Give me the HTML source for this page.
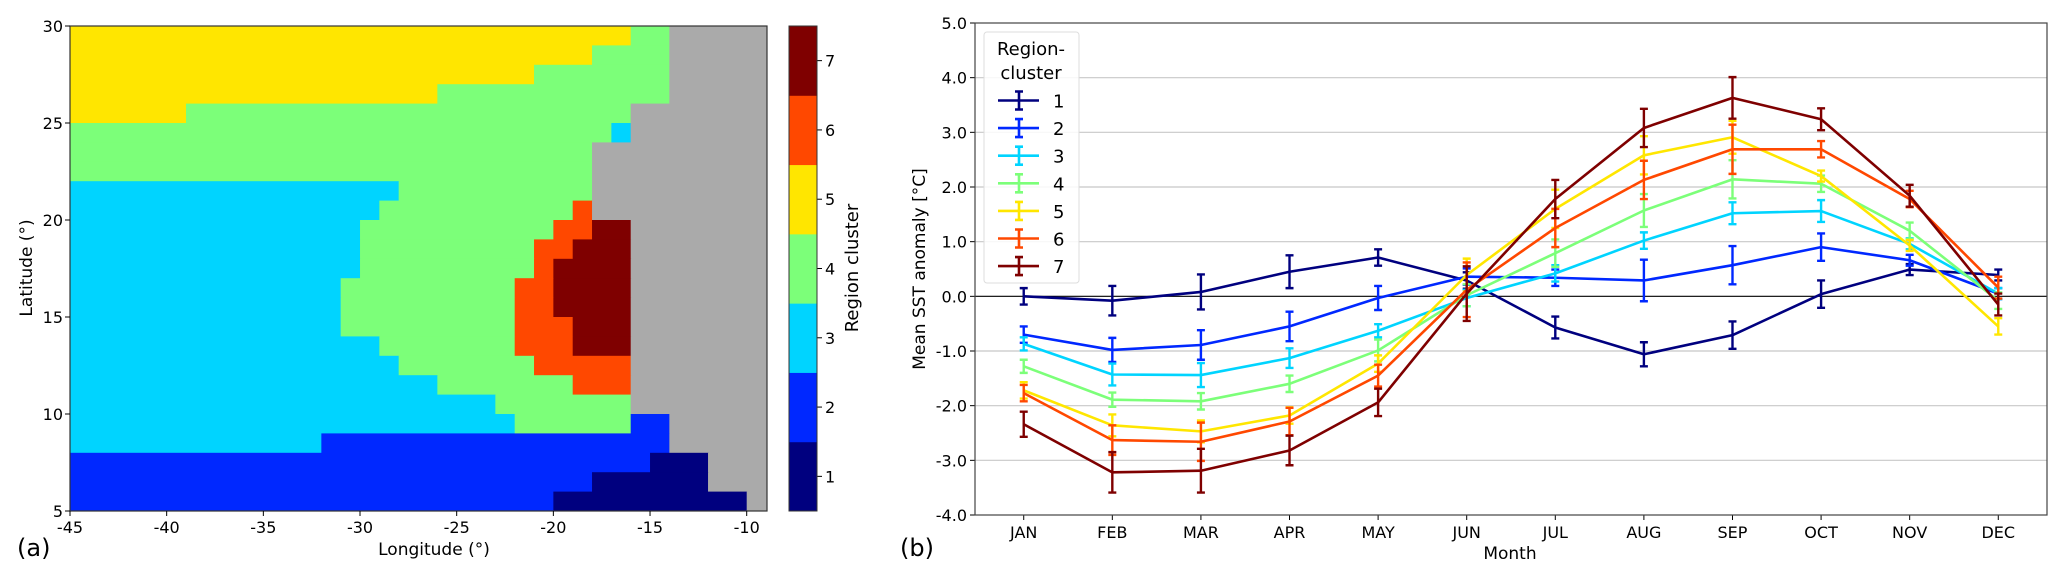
<!DOCTYPE html>
<html><head><meta charset="utf-8">
<style>
html,body{margin:0;padding:0;background:#fff;}
svg{display:block;font-family:"DejaVu Sans","Liberation Sans",sans-serif;}
</style></head>
<body>
<svg id="fig" width="2067" height="579" viewBox="0 0 2067 579">
  <g id="mapG"></g>
  <g id="cbG"></g>
  <g id="chartG"></g>
</svg>
<script>
// ---------- Map data ----------
const mapLats = [30,29,28,27,26,25,24,23,22,21,20,19,18,17,16,15,14,13,12,11,10,9,8,7,6];
const mapRows = [
 [[-45,5],[-16,4],[-14,0]],
 [[-45,5],[-18,4],[-14,0]],
 [[-45,5],[-21,4],[-14,0]],
 [[-45,5],[-26,4],[-14,0]],
 [[-45,5],[-39,4],[-16,0]],
 [[-45,4],[-17,3],[-16,0]],
 [[-45,4],[-18,0]],
 [[-45,4],[-18,0]],
 [[-45,3],[-28,4],[-18,0]],
 [[-45,3],[-29,4],[-19,6],[-18,0]],
 [[-45,3],[-30,4],[-20,6],[-18,7],[-16,0]],
 [[-45,3],[-30,4],[-21,6],[-19,7],[-16,0]],
 [[-45,3],[-30,4],[-21,6],[-20,7],[-16,0]],
 [[-45,3],[-31,4],[-22,6],[-20,7],[-16,0]],
 [[-45,3],[-31,4],[-22,6],[-20,7],[-16,0]],
 [[-45,3],[-31,4],[-22,6],[-19,7],[-16,0]],
 [[-45,3],[-29,4],[-22,6],[-19,7],[-16,0]],
 [[-45,3],[-28,4],[-21,6],[-16,0]],
 [[-45,3],[-26,4],[-19,6],[-16,0]],
 [[-45,3],[-23,4],[-16,0]],
 [[-45,3],[-22,4],[-16,2],[-14,0]],
 [[-45,3],[-32,2],[-14,0]],
 [[-45,2],[-15,1],[-12,0]],
 [[-45,2],[-18,1],[-12,0]],
 [[-45,2],[-20,1],[-10,0]]
];
const clusterColors = ['#aaaaaa','#00007f','#0028ff','#00d4ff','#7cff79','#ffe600','#ff4800','#7f0000'];
const lonTicks = [-45,-40,-35,-30,-25,-20,-15,-10];
const latTicks = [5,10,15,20,25,30];
const cbTicks = [1,2,3,4,5,6,7];

// ---------- Chart data ----------
const months = ['JAN','FEB','MAR','APR','MAY','JUN','JUL','AUG','SEP','OCT','NOV','DEC'];
const s1 = [0.0,-0.08,0.08,0.45,0.71,0.29,-0.57,-1.06,-0.71,0.04,0.49,0.39];
const s2 = [-0.7,-0.98,-0.89,-0.55,-0.03,0.36,0.34,0.29,0.57,0.9,0.66,0.05];
const s3 = [-0.87,-1.43,-1.44,-1.13,-0.63,-0.03,0.42,1.02,1.52,1.56,0.96,0.05];
const s4 = [-1.28,-1.89,-1.92,-1.6,-0.99,0.02,0.79,1.57,2.14,2.06,1.2,-0.08];
const s5 = [-1.72,-2.36,-2.47,-2.18,-1.23,0.39,1.6,2.58,2.91,2.2,0.93,-0.55];
const s6 = [-1.77,-2.63,-2.66,-2.29,-1.45,0.12,1.25,2.13,2.69,2.69,1.78,0.16];
const s7 = [-2.34,-3.22,-3.19,-2.82,-1.94,0.05,1.78,3.08,3.63,3.24,1.84,-0.15];
const e1 = [0.15,0.27,0.32,0.3,0.15,0.15,0.2,0.22,0.25,0.25,0.1,0.1];
const e2 = [0.15,0.22,0.27,0.27,0.22,0.15,0.15,0.38,0.35,0.25,0.1,0.1];
const e3 = [0.12,0.2,0.22,0.18,0.12,0.15,0.15,0.15,0.2,0.2,0.1,0.1];
const e4 = [0.12,0.13,0.15,0.15,0.2,0.2,0.25,0.3,0.35,0.15,0.15,0.15];
const e5 = [0.15,0.2,0.2,0.15,0.15,0.3,0.35,0.35,0.3,0.1,0.1,0.15];
const e6 = [0.15,0.27,0.35,0.25,0.2,0.5,0.35,0.35,0.45,0.15,0.15,0.2];
const e7 = [0.23,0.37,0.4,0.27,0.25,0.5,0.35,0.35,0.38,0.2,0.2,0.2];
const yTicks = [-4,-3,-2,-1,0,1,2,3,4,5];
const seriesNames = ['1','2','3','4','5','6','7'];

const NS='http://www.w3.org/2000/svg';
function mk(parent,tag,attrs,text){
  const el=document.createElementNS(NS,tag);
  for(const k in attrs) el.setAttribute(k,attrs[k]);
  if(text!==undefined) el.textContent=text;
  parent.appendChild(el);
  return el;
}

// ---------- Map ----------
const mapG=document.getElementById('mapG');
const M={x0:70,x1:767,y0:26,y1:511,lon0:-45,lon1:-8.95,lat0:5,lat1:30};
const lx=v=>M.x0+(v-M.lon0)/(M.lon1-M.lon0)*(M.x1-M.x0);
const ly=v=>M.y1-(v-M.lat0)/(M.lat1-M.lat0)*(M.y1-M.y0);
mapRows.forEach((runs,ri)=>{
  const top=mapLats[ri];
  runs.forEach((r,k)=>{
    const end = k+1<runs.length ? runs[k+1][0] : M.lon1;
    const x=lx(r[0]), w=lx(end)-x+0.5;
    const c=mk(mapG,'rect',{x:x,y:ly(top),width:w,height:ly(top-1)-ly(top)+0.5,fill:clusterColors[r[1]]});
    
    
  });
});
mk(mapG,'rect',{x:M.x0,y:M.y0,width:M.x1-M.x0,height:M.y1-M.y0,fill:'none',stroke:'#333','stroke-width':1.2});
lonTicks.forEach(t=>{
  const x=lx(t);
  mk(mapG,'line',{x1:x,x2:x,y1:M.y1,y2:M.y1+5,stroke:'#000'});
  const tx=mk(mapG,'text',{x:x,y:M.y1+22,'text-anchor':'middle','font-size':16},String(t));
  
  
});
latTicks.forEach(t=>{
  const y=ly(t);
  mk(mapG,'line',{x1:M.x0-5,x2:M.x0,y1:y,y2:y,stroke:'#000'});
  const tx=mk(mapG,'text',{x:M.x0-7,y:y+6,'text-anchor':'end','font-size':16},String(t));
  
  
});
mk(mapG,'text',{x:434,y:555,'text-anchor':'middle','font-size':17,},'Longitude (°)');
mk(mapG,'text',{x:0,y:0,transform:'translate(32,268) rotate(-90)','text-anchor':'middle','font-size':17,},'Latitude (°)');
mk(mapG,'text',{x:17,y:556,'font-size':24,},'(a)');

// ---------- Colorbar ----------
const cbG=document.getElementById('cbG');
const CB={x:789,w:28,y0:26,y1:511};
const cbH=(CB.y1-CB.y0)/7;
cbTicks.forEach((t,i)=>{
  const y=CB.y1-(i+1)*cbH;
  const r=mk(cbG,'rect',{x:CB.x,y:y,width:CB.w,height:cbH+0.5,fill:clusterColors[t]});
  
  
  mk(cbG,'line',{x1:CB.x+CB.w,x2:CB.x+CB.w+5,y1:y+cbH/2,y2:y+cbH/2,stroke:'#000'});
  const tx=mk(cbG,'text',{x:CB.x+CB.w+8,y:y+cbH/2+6,'font-size':16},String(t));
  
  
});
mk(cbG,'rect',{x:CB.x,y:CB.y0,width:CB.w,height:CB.y1-CB.y0,fill:'none',stroke:'#333','stroke-width':1});
mk(cbG,'text',{x:0,y:0,transform:'translate(858,268) rotate(-90)','text-anchor':'middle','font-size':18,},'Region cluster');

// ---------- Chart ----------
const chartG=document.getElementById('chartG');
const C={x0:975,x1:2047,y0:23,y1:515,vmin:-4,vmax:5,imin:-0.55,imax:11.55};
const cx=i=>C.x0+(i-C.imin)/(C.imax-C.imin)*(C.x1-C.x0);
const cy=v=>C.y1-(v-C.vmin)/(C.vmax-C.vmin)*(C.y1-C.y0);
yTicks.forEach(t=>{
  const y=cy(t);
  if(t!==0 && t!==-4 && t!==5) mk(chartG,'line',{x1:C.x0,x2:C.x1,y1:y,y2:y,stroke:'#c8c8c8','stroke-width':1.2});
  mk(chartG,'line',{x1:C.x0-5,x2:C.x0,y1:y,y2:y,stroke:'#000'});
  const tx=mk(chartG,'text',{x:C.x0-8,y:y+6,'text-anchor':'end','font-size':16},t.toFixed(1));
  
  
});
mk(chartG,'line',{x1:C.x0,x2:C.x1,y1:cy(0),y2:cy(0),stroke:'#000','stroke-width':1.2,});
months.forEach((m,i)=>{
  const x=cx(i);
  mk(chartG,'line',{x1:x,x2:x,y1:C.y1,y2:C.y1+5,stroke:'#000'});
  const tx=mk(chartG,'text',{x:x,y:C.y1+23,'text-anchor':'middle','font-size':16},m);
  
  
});
const allS=[s1,s2,s3,s4,s5,s6,s7];
const allE=[e1,e2,e3,e4,e5,e6,e7];
allS.forEach((s,k)=>{
  const col=clusterColors[k+1];
  const g=mk(chartG,'g',{});
  
  
  const pts=s.map((v,i)=>cx(i)+','+cy(v)).join(' ');
  mk(g,'polyline',{points:pts,fill:'none',stroke:col,'stroke-width':2.6,'stroke-linejoin':'round'});
  s.forEach((v,i)=>{
    const x=cx(i),ya=cy(v+allE[k][i]),yb=cy(v-allE[k][i]);
    const eb=mk(g,'path',{d:`M${x},${ya}V${yb}M${x-4},${ya}H${x+4}M${x-4},${yb}H${x+4}`,stroke:col,'stroke-width':2.4,fill:'none'});
    
    
  });
});
mk(chartG,'rect',{x:C.x0,y:C.y0,width:C.x1-C.x0,height:C.y1-C.y0,fill:'none',stroke:'#444','stroke-width':1.2});
// legend
const lg=mk(chartG,'g',{});


mk(lg,'rect',{x:984,y:32,width:95,height:251,rx:3,fill:'#fff','fill-opacity':0.85,stroke:'#ddd'});
mk(lg,'text',{x:1031,y:55,'text-anchor':'middle','font-size':18},'Region-');
mk(lg,'text',{x:1031,y:79,'text-anchor':'middle','font-size':18},'cluster');
seriesNames.forEach((n,k)=>{
  const y=100.5+k*27.6, col=clusterColors[k+1];
  const e=mk(lg,'g',{});
  
  
  mk(e,'path',{d:`M998,${y}H1039M1019,${y-9}V${y+9}M1015,${y-9}H1023M1015,${y+9}H1023`,stroke:col,'stroke-width':2.6,fill:'none'});
  mk(e,'text',{x:1053,y:y+7,'font-size':18},n);
});
mk(chartG,'text',{x:0,y:0,transform:'translate(925,269) rotate(-90)','text-anchor':'middle','font-size':17,},'Mean SST anomaly [°C]');
mk(chartG,'text',{x:1510,y:559,'text-anchor':'middle','font-size':17,},'Month');
mk(chartG,'text',{x:900,y:556,'font-size':24,},'(b)');
</script>
</body></html>
